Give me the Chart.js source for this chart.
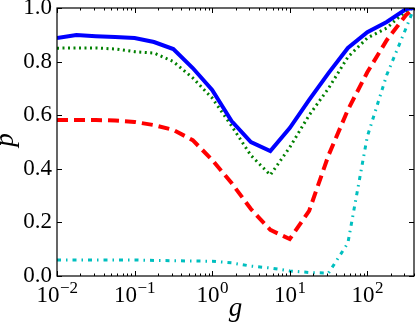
<!DOCTYPE html>
<html lang="en">
<head>
    <meta charset="UTF-8">
    <title>p vs g</title>
    <script src="https://cdn.jsdelivr.net/npm/chart.js"></script>
    <style>
        html, body {
            margin: 0;
            padding: 0;
            background: #fff;
        }
        #plot {
            display: block;
        }
    </style>
</head>
<body>
    <canvas id="plot" width="415" height="324"></canvas>
    <script>
        // sample points on the g axis (log spaced)
        const gValues = [0.01, 0.0178, 0.0316, 0.0562, 0.1, 0.178, 0.316, 0.562, 1, 1.78,
                         3.16, 5.62, 10, 17.8, 31.6, 56.2, 100, 178, 316, 400];

        const pBlue  = [0.888, 0.899, 0.895, 0.892, 0.888, 0.873, 0.847, 0.776, 0.694, 0.578,
                        0.500, 0.466, 0.552, 0.657, 0.757, 0.851, 0.910, 0.948, 0.996, 1.000];
        const pGreen = [0.850, 0.851, 0.851, 0.847, 0.837, 0.832, 0.800, 0.739, 0.664, 0.560,
                        0.450, 0.377, 0.480, 0.600, 0.700, 0.817, 0.888, 0.925, 0.990, 1.000];
        const pRed   = [0.582, 0.582, 0.582, 0.580, 0.575, 0.563, 0.545, 0.507, 0.433, 0.347,
                        0.250, 0.172, 0.138, 0.243, 0.450, 0.620, 0.760, 0.880, 0.974, 1.000];
        const pCyan  = [0.060, 0.060, 0.060, 0.060, 0.060, 0.058, 0.057, 0.056, 0.055, 0.049,
                        0.037, 0.030, 0.019, 0.013, 0.011, 0.123, 0.520, 0.750, 0.925, 1.000];

        const yTicks = [0, 0.2, 0.4, 0.6, 0.8, 1.0];
        const xTicks = [0.01, 0.1, 1, 10, 100];
        const xTickExps = ['\u22122', '\u22121', '0', '1', '2'];

        const serif = "'Liberation Serif'";

        const toPoints = (ys) => ys.map((v, i) => ({ x: gValues[i], y: v }));

        // frame, inward ticks, log x labels and axis titles
        const framePlugin = {
            id: 'frame',
            afterDraw(chart) {
                const { ctx, chartArea: a, scales: { x, y } } = chart;
                ctx.save();
                ctx.strokeStyle = '#000';
                ctx.lineWidth = 1.2;
                ctx.strokeRect(a.left, a.top, a.right - a.left, a.bottom - a.top);

                const seg = (x1, y1, x2, y2) => {
                    ctx.beginPath();
                    ctx.moveTo(x1, y1);
                    ctx.lineTo(x2, y2);
                    ctx.stroke();
                };

                ctx.lineWidth = 1;
                yTicks.forEach(v => {
                    const py = Math.round(y.getPixelForValue(v)) + 0.5;
                    seg(a.left, py, a.left + 5, py);
                    seg(a.right, py, a.right - 5, py);
                });

                for (let d = -2; d <= 2; d++) {
                    for (let m = 1; m <= 9; m++) {
                        const v = m * Math.pow(10, d);
                        if (v > x.max) break;
                        const px = Math.round(x.getPixelForValue(v)) + 0.5;
                        const len = m === 1 ? 5 : 2.5;
                        seg(px, a.bottom, px, a.bottom - len);
                        seg(px, a.top, px, a.top + len);
                    }
                }

                // x tick labels: 10 with superscript exponent
                ctx.fillStyle = '#000';
                ctx.textBaseline = 'alphabetic';
                ctx.textAlign = 'left';
                xTicks.forEach((v, i) => {
                    const px = x.getPixelForValue(v);
                    ctx.font = '23px ' + serif;
                    const wb = ctx.measureText('10').width;
                    ctx.font = '17px ' + serif;
                    const we = ctx.measureText(xTickExps[i]).width;
                    const x0 = px - (wb + we) / 2;
                    ctx.font = '23px ' + serif;
                    ctx.fillText('10', x0, 302);
                    ctx.font = '17px ' + serif;
                    ctx.fillText(xTickExps[i], x0 + wb + 0.5, 293);
                });

                // axis titles
                ctx.font = 'italic 27px ' + serif;
                ctx.textAlign = 'center';
                ctx.fillText('g', (a.left + a.right) / 2, 316);

                ctx.translate(13, 140);
                ctx.rotate(-Math.PI / 2);
                ctx.fillText('p', 0, 0);
                ctx.restore();
            }
        };

        new Chart(document.getElementById('plot'), {
            type: 'line',
            data: {
                datasets: [
                    {
                        data: toPoints(pBlue),
                        borderColor: '#0000ff',
                        borderWidth: 4
                    },
                    {
                        data: toPoints(pGreen),
                        borderColor: '#008000',
                        borderWidth: 3,
                        borderDash: [2, 3.5]
                    },
                    {
                        data: toPoints(pRed),
                        borderColor: '#ff0000',
                        borderWidth: 4,
                        borderDash: [11, 6]
                    },
                    {
                        data: toPoints(pCyan),
                        borderColor: '#00bfbf',
                        borderWidth: 3,
                        borderDash: [4, 5, 1.5, 5]
                    }
                ]
            },
            options: {
                responsive: false,
                animation: false,
                devicePixelRatio: 1,
                layout: { padding: { top: 8, right: 1, left: 0, bottom: 0 } },
                elements: {
                    point: { radius: 0 },
                    line: { tension: 0, fill: false, borderCapStyle: 'butt' }
                },
                plugins: {
                    legend: { display: false },
                    tooltip: { enabled: false }
                },
                scales: {
                    x: {
                        type: 'logarithmic',
                        min: 0.01,
                        max: 400,
                        grid: { display: false },
                        border: { display: false },
                        ticks: { display: false },
                        afterFit(s) {
                            s.height = 48;
                            s.paddingLeft = 0;
                            s.paddingRight = 0;
                        }
                    },
                    y: {
                        min: 0,
                        max: 1,
                        grid: { display: false, drawTicks: false },
                        border: { display: false },
                        afterBuildTicks(s) {
                            s.ticks = yTicks.map(v => ({ value: v }));
                        },
                        ticks: {
                            color: '#000',
                            padding: 5,
                            font: { family: serif, size: 23 },
                            callback: v => v.toFixed(1)
                        },
                        afterFit(s) {
                            s.width = 57;
                            s.paddingTop = 0;
                            s.paddingBottom = 0;
                        }
                    }
                }
            },
            plugins: [framePlugin]
        });
    </script>
</body>
</html>
